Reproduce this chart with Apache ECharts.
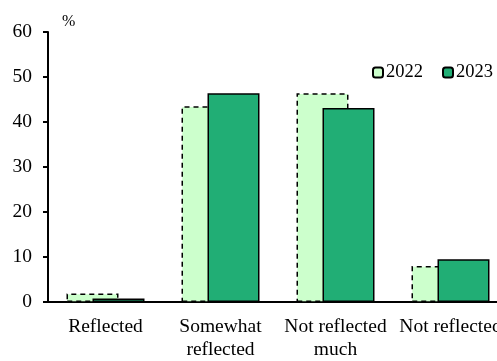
<!DOCTYPE html>
<html>
<head>
<meta charset="utf-8">
<script src="https://cdn.jsdelivr.net/npm/echarts@6/dist/echarts.min.js"></script>
<style>
  html, body { margin: 0; padding: 0; background: #fff; overflow: hidden; }
  #wrap { width: 497px; height: 361px; overflow: hidden; }
  /* the canvas is wider than the window, so the last category is cut off at the edge */
  #chart { width: 512px; height: 361px; }
</style>
</head>
<body>
<div id="wrap"><div id="chart"></div></div>
<script>
// Categories and survey shares (%) per year
const categories = ['Reflected', 'Somewhat\nreflected', 'Not reflected\nmuch', 'Not reflected'];
const values2022 = [1.9, 43.5, 46.4, 8.0];
const values2023 = [0.8, 46.4, 43.1, 9.5];
const yTicks = [0, 10, 20, 30, 40, 50, 60];

const serif = '"Liberation Serif", "Times New Roman", serif';
const chart = echarts.init(document.getElementById('chart'), null, { renderer: 'canvas' });

chart.setOption({
  animation: false,
  textStyle: { fontFamily: serif, color: '#000' },
  grid: { left: 48, top: 32, right: 4, bottom: 57.5, containLabel: false },
  legend: {
    left: 367,
    top: 58,
    itemWidth: 10,
    itemHeight: 10,
    itemGap: 19,
    textStyle: { fontFamily: serif, fontSize: 18.5, color: '#000', padding: [0, 0, 0, -2] },
    data: ['2022', '2023']
  },
  xAxis: {
    type: 'category',
    data: categories,
    axisLine: { lineStyle: { color: '#000', width: 2 } },
    axisTick: { lineStyle: { color: '#000', width: 2 }, length: 5 },
    axisLabel: {
      interval: 0,
      margin: 13,
      fontFamily: serif,
      fontSize: 19.5,
      lineHeight: 23,
      color: '#000'
    }
  },
  yAxis: {
    type: 'value',
    min: yTicks[0],
    max: yTicks[yTicks.length - 1],
    interval: 10,
    name: '%',
    nameLocation: 'end',
    nameGap: 2,
    nameTextStyle: { fontFamily: serif, fontSize: 16, color: '#000', align: 'left', padding: [0, 0, 0, 14] },
    axisLine: { show: true, lineStyle: { color: '#000', width: 2 } },
    axisTick: { show: true, lineStyle: { color: '#000', width: 2 }, length: 5 },
    splitLine: { show: false },
    axisLabel: { margin: 16, fontFamily: serif, fontSize: 19.5, color: '#000' }
  },
  series: [
    {
      name: '2022',
      type: 'bar',
      data: values2022,
      barWidth: 52,
      barGap: '-50%',
      itemStyle: { color: '#ccffcc', borderColor: '#000', borderWidth: 1.5, borderType: [5, 4] }
    },
    {
      name: '2023',
      type: 'bar',
      data: values2023,
      barWidth: 52,
      barGap: '-50%',
      itemStyle: { color: '#21ae75', borderColor: '#000', borderWidth: 1.5 }
    }
  ]
});
</script>
</body>
</html>
